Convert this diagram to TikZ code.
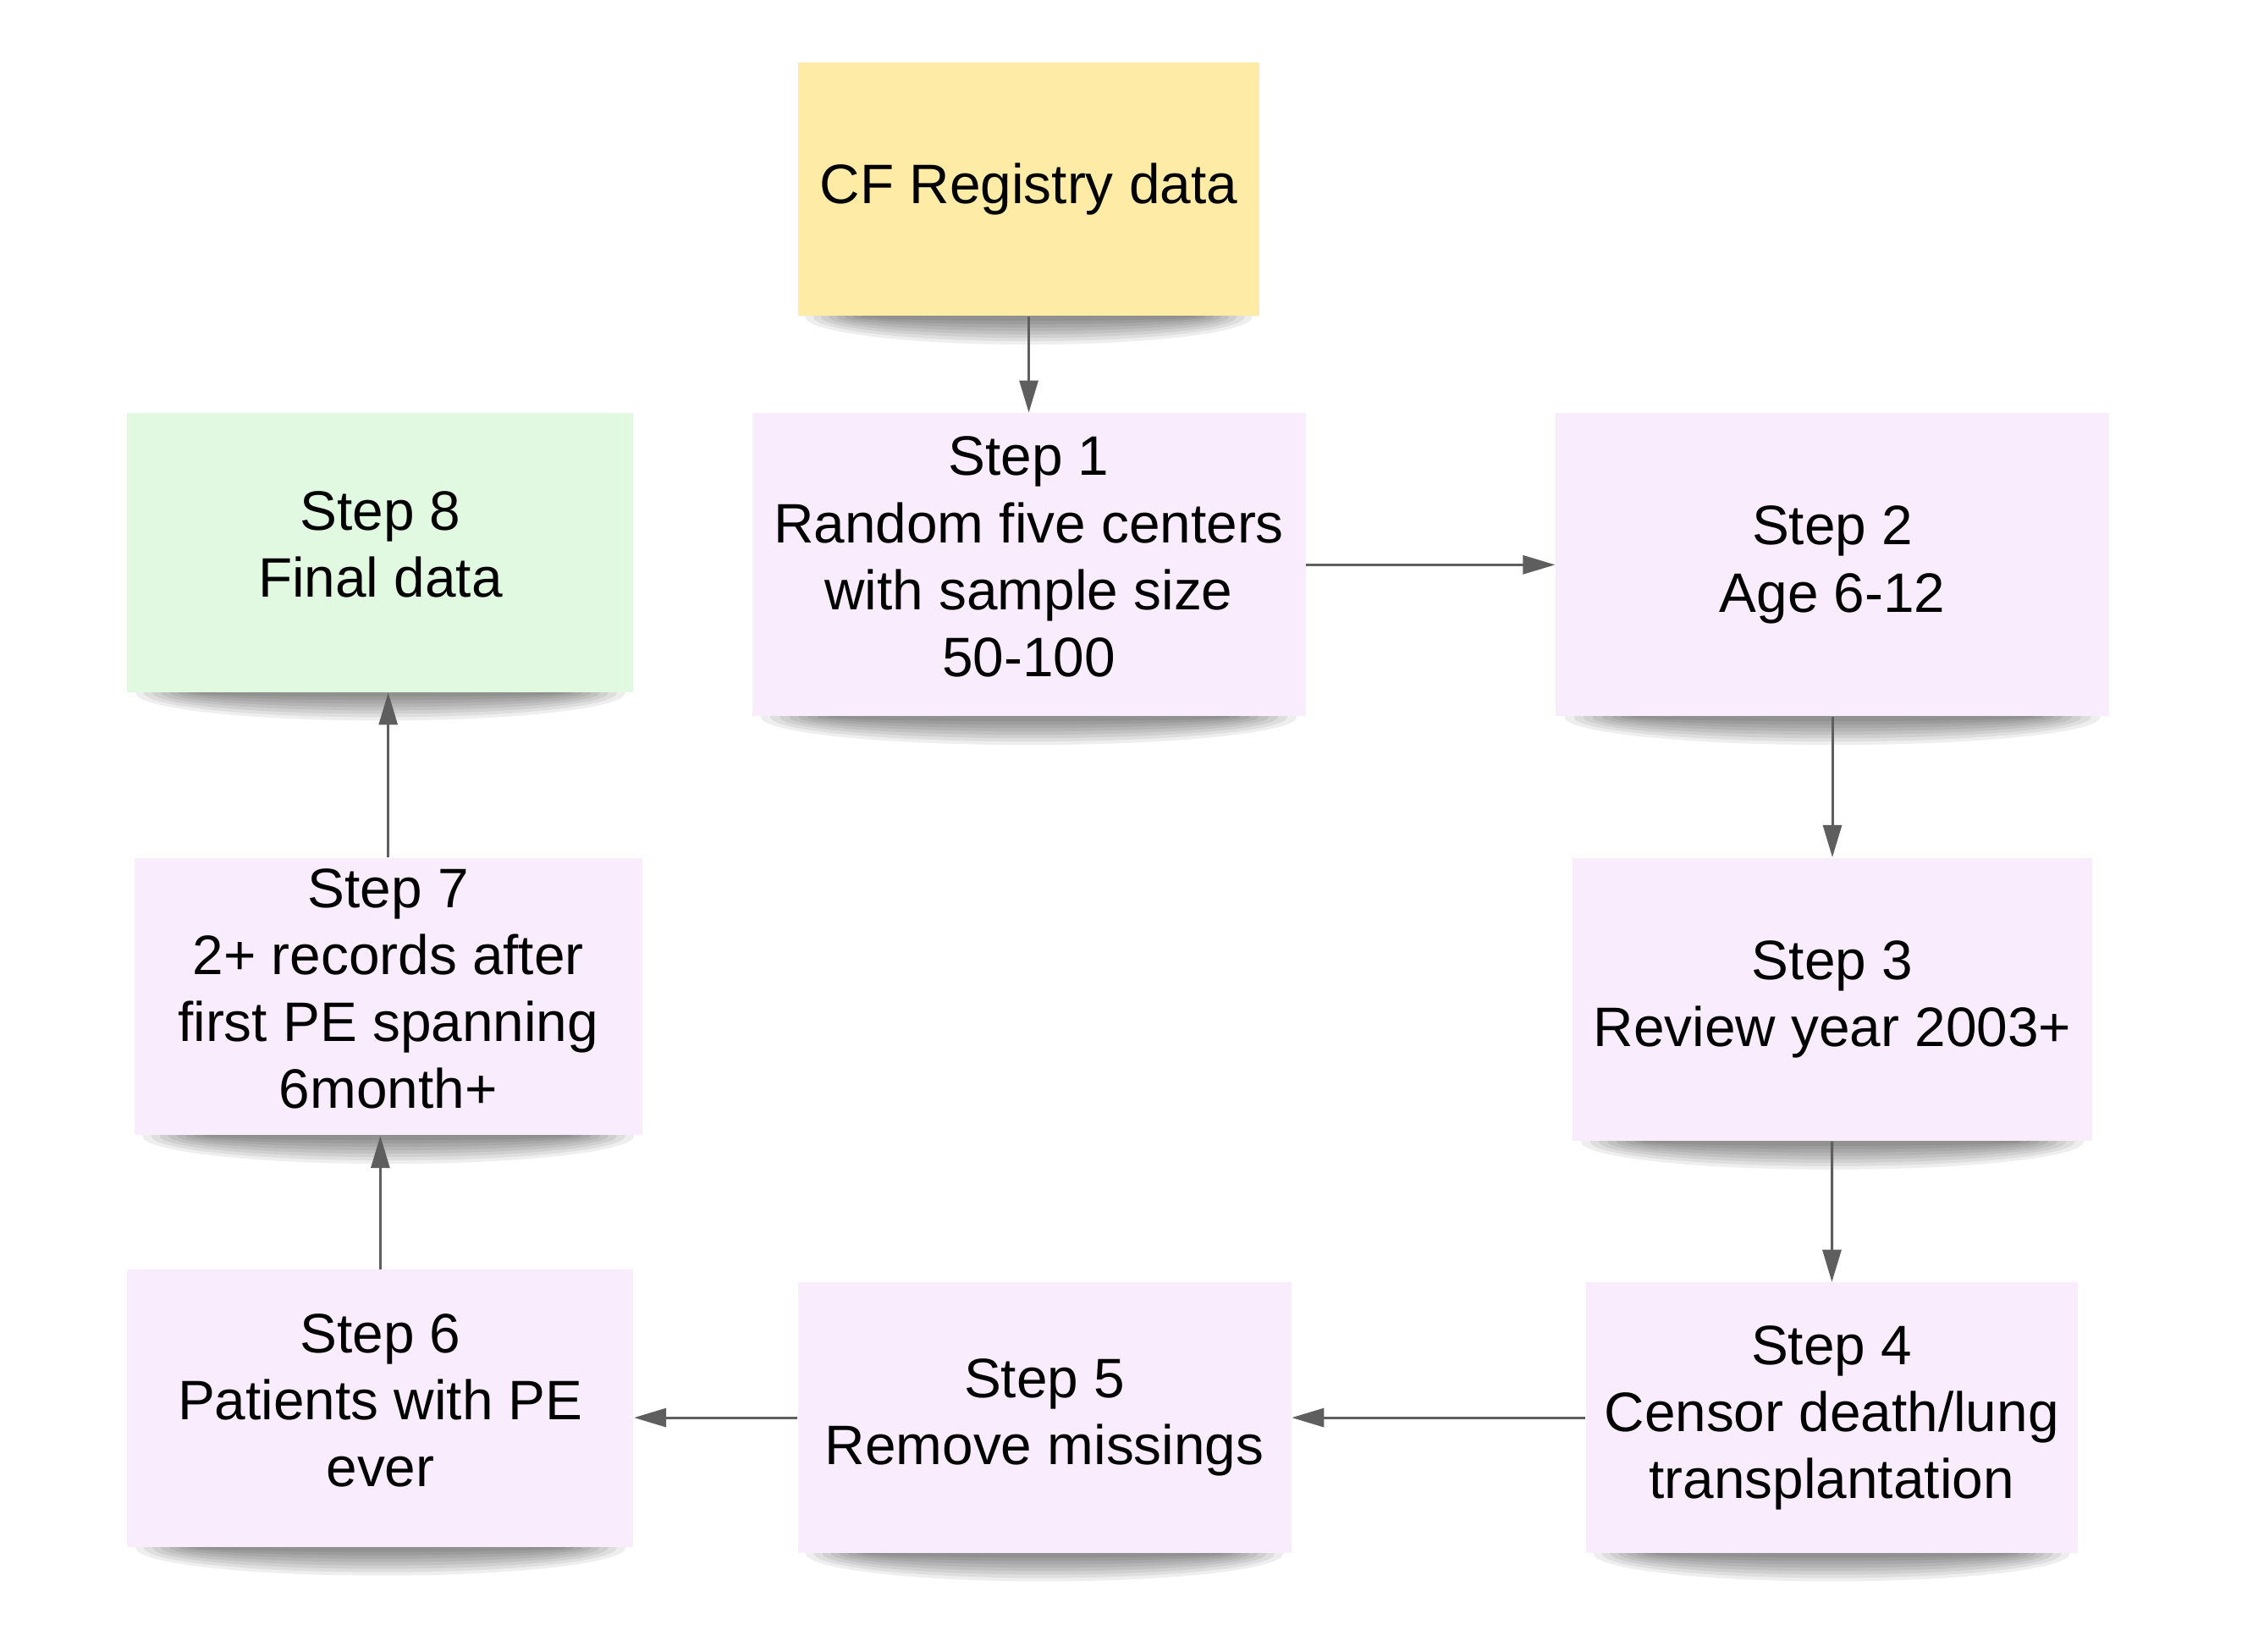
\documentclass[tikz,border=0pt]{standalone}
\usepackage{fontspec}
\setmainfont{Liberation Sans}
\usepackage{tikz}
\usetikzlibrary{arrows.meta,positioning,calc,backgrounds}
\definecolor{ink}{HTML}{000000}
\definecolor{edge}{HTML}{5E5E5E}
\definecolor{stepfill}{HTML}{F9EDFD}
\definecolor{srcfill}{HTML}{FEEBA6}
\definecolor{endfill}{HTML}{E1F9E1}

\begin{document}
\begin{tikzpicture}[x=0.016894cm,y=-0.016894cm,
  font=\fontsize{18.7}{22.5}\selectfont,
  stepbox/.style={rectangle,fill=stepfill,text=ink,align=center,inner sep=2pt},
  lift/.style={text depth=5.5pt},
  shade/.style={fill=black,opacity=0.065},
  arr/.style={draw=edge,line width=0.85pt,-{Triangle[length=0.38cm,width=0.22cm]}}]

  \useasboundingbox (0,0) rectangle (1568,1155);

  % source and the eight filtering steps
  \node[stepbox,fill=srcfill,minimum width=5.457cm,minimum height=2.990cm]
    (cf) at (719.5,132.5) {CF Registry data};
  \node[stepbox,lift,minimum width=6.538cm,minimum height=3.582cm]
    (s1) at (719.5,395) {Step 1\\Random five centers\\with sample size\\50-100};
  \node[stepbox,minimum width=6.538cm,minimum height=3.582cm]
    (s2) at (1281.5,395) {Step 2\\Age 6-12};
  \node[stepbox,minimum width=6.133cm,minimum height=3.345cm]
    (s3) at (1281.5,699) {Step 3\\Review year 2003+};
  \node[stepbox,minimum width=5.812cm,minimum height=3.193cm]
    (s4) at (1281,991.5) {Step 4\\Censor death/lung\\transplantation};
  \node[stepbox,minimum width=5.828cm,minimum height=3.193cm]
    (s5) at (730.5,991.5) {Step 5\\Remove missings};
  \node[stepbox,lift,minimum width=5.980cm,minimum height=3.277cm]
    (s6) at (266,985) {Step 6\\Patients with PE\\ever};
  \node[stepbox,lift,minimum width=5.997cm,minimum height=3.277cm]
    (s7) at (271.5,697) {Step 7\\2+ records after\\first PE spanning\\6month+};
  \node[stepbox,lift,fill=endfill,minimum width=5.980cm,minimum height=3.294cm]
    (s8) at (266,386.5) {Step 8\\Final data};

  % soft shadow under every box
  \begin{scope}[on background layer]
    \fill[white] (0,0) rectangle (1568,1155);
    \foreach \b in {cf,s1,s2,s3,s4,s5,s6,s7,s8}
      \foreach \k in {1,...,8}
        \path[shade] let \p1=($(\b.south east)-(\b.south west)$) in
          (\b.south) ellipse [x radius={\x1*(0.5-0.017*\k)},
                              y radius={(0.37-0.04*\k)*1cm}];
  \end{scope}

  \draw[arr] (cf) -- (s1);
  \draw[arr] (s1) -- (s2);
  \draw[arr] (s2) -- (s3);
  \draw[arr] (s3) -- (s4);
  \draw[arr] (s4) -- (s5);
  \draw[arr] (s5.west) -- (s5.west -| s6.east);
  \draw[arr] (s6.north) -- (s6.north |- s7.south);
  \draw[arr] (s7.north) -- (s7.north |- s8.south);
\end{tikzpicture}
\end{document}
